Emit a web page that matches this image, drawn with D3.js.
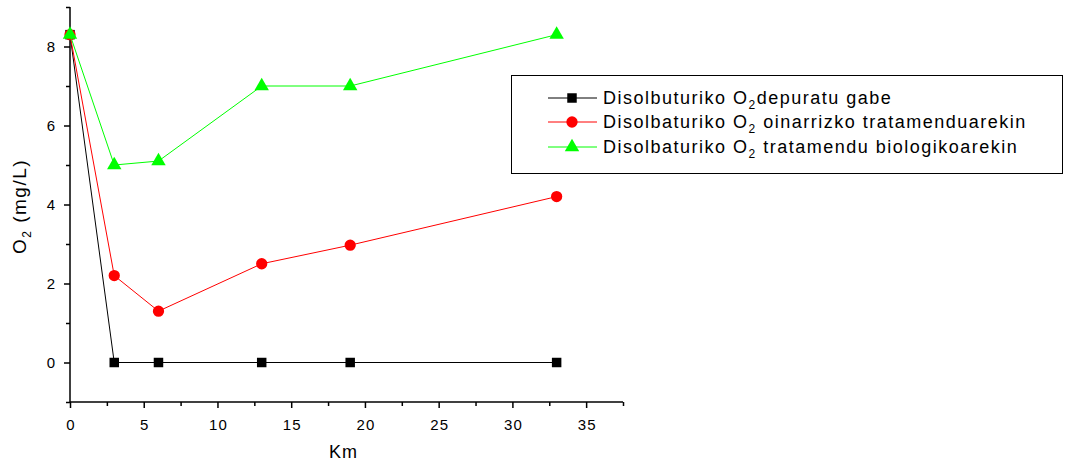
<!DOCTYPE html>
<html>
<head>
<meta charset="utf-8">
<script src="https://cdn.jsdelivr.net/npm/d3@7"></script>
<style>
  body { margin: 0; background: #fff; }
  svg { font-family: "Liberation Sans", Arial, sans-serif; }
</style>
</head>
<body>
<div id="chart"></div>
<script>
// data
var km = [0, 3, 6, 13, 19, 33];
var noTreatment = [8.3, 0, 0, 0, 0, 0];
var basicTreatment = [8.3, 2.2, 1.3, 2.5, 2.97, 4.2];
var bioTreatment = [8.3, 5.0, 5.1, 7.0, 7.0, 8.3];
var seriesNames = ["Disolbuturiko O", "Disolbaturiko O", "Disolbaturiko O"];
var seriesTails = ["depuratu gabe", " oinarrizko tratamenduarekin", " tratamendu biologikoarekin"];
var xTicks = [0, 5, 10, 15, 20, 25, 30, 35];
var yTicks = [0, 2, 4, 6, 8];

var width = 1065, height = 466;
var margin = { left: 70, top: 7, right: 442, bottom: 64 };

var svg = d3.select("#chart").append("svg")
  .attr("width", width)
  .attr("height", height);

var x = d3.scaleLinear().domain([0, 37.5]).range([margin.left, width - margin.right]);
var y = d3.scaleLinear().domain([-1, 9]).range([height - margin.bottom, margin.top]);

// x axis
var xAxis = svg.append("g")
  .attr("transform", "translate(0," + y(-1) + ")");
xAxis.call(d3.axisBottom(x).tickValues(d3.range(0, 37.6, 2.5)).tickSize(5).tickFormat(function (d) {
  return xTicks.indexOf(d) >= 0 ? d : "";
}));
xAxis.selectAll("text").attr("font-size", 15).attr("letter-spacing", 1)
  .attr("fill", "#000").attr("dy", "1em").attr("y", 13).attr("dx", 0.5);
xAxis.selectAll(".tick line").attr("stroke-width", 1.5)
  .attr("y2", function (d) { return xTicks.indexOf(d) >= 0 ? 6 : 4; });
xAxis.select(".domain").attr("d", "M" + x(0) + ",0H" + x(37.5)).attr("stroke-width", 1.5);

// y axis
var yAxis = svg.append("g")
  .attr("transform", "translate(" + x(0) + ",0)");
yAxis.call(d3.axisLeft(y).tickValues(d3.range(-1, 9.1, 1)).tickSize(5).tickFormat(function (d) {
  return yTicks.indexOf(d) >= 0 ? d : "";
}));
yAxis.selectAll("text").attr("font-size", 15).attr("fill", "#000").attr("x", -15);
yAxis.selectAll(".tick line").attr("stroke-width", 1.5)
  .attr("x2", function (d) { return yTicks.indexOf(d) >= 0 ? -6 : -4; });
yAxis.select(".domain").attr("d", "M0," + y(9) + "V" + y(-1)).attr("stroke-width", 1.5);

// axis titles
svg.append("text")
  .attr("x", (x(0) + x(37.5)) / 2 - 3)
  .attr("y", 458)
  .attr("text-anchor", "middle")
  .attr("font-size", 18)
  .attr("letter-spacing", 1)
  .text("Km");

var yTitle = svg.append("text")
  .attr("transform", "translate(26," + (y(4) + 2) + ") rotate(-90)")
  .attr("text-anchor", "middle")
  .attr("font-size", 19)
  .attr("letter-spacing", 1.5);
yTitle.append("tspan").text("O");
yTitle.append("tspan").attr("font-size", 12).attr("dy", 5).text("2");
yTitle.append("tspan").attr("dy", -5).text(" (mg/L)");

var series = [
  { values: noTreatment, color: "#000000", shape: d3.symbolSquare, size: 90 },
  { values: basicTreatment, color: "#ff0000", shape: d3.symbolCircle, size: 100 },
  { values: bioTreatment, color: "#00ff00", shape: d3.symbolTriangle, size: 90 }
];

var line = d3.line()
  .x(function (d) { return x(d[0]); })
  .y(function (d) { return y(d[1]); });

series.forEach(function (s) {
  var pts = km.map(function (k, i) { return [k, s.values[i]]; });
  svg.append("path")
    .attr("d", line(pts))
    .attr("fill", "none")
    .attr("stroke", s.color)
    .attr("stroke-width", 1);
  svg.selectAll(null)
    .data(pts)
    .enter().append("path")
    .attr("transform", function (d) { return "translate(" + x(d[0]) + "," + y(d[1]) + ")"; })
    .attr("d", d3.symbol().type(s.shape).size(s.size))
    .attr("fill", s.color);
});

// legend
var legend = svg.append("g");
legend.append("rect")
  .attr("x", 511.5).attr("y", 75.5)
  .attr("width", 551).attr("height", 98)
  .attr("fill", "#fff")
  .attr("stroke", "#000")
  .attr("stroke-width", 1);

var rowY = [98, 122, 147];
series.forEach(function (s, i) {
  var g = legend.append("g").attr("transform", "translate(0," + rowY[i] + ")");
  g.append("line")
    .attr("x1", 548).attr("x2", 597)
    .attr("stroke", s.color).attr("stroke-width", 1);
  g.append("path")
    .attr("transform", "translate(572,0)")
    .attr("d", d3.symbol().type(s.shape).size(s.size))
    .attr("fill", s.color);
  var t = g.append("text")
    .attr("x", 603).attr("y", 6)
    .attr("font-size", 18)
    .attr("letter-spacing", 1.5);
  t.append("tspan").text(seriesNames[i]);
  t.append("tspan").attr("font-size", 12).attr("dy", 5).text("2");
  t.append("tspan").attr("dy", -5).text(seriesTails[i]);
});
</script>
</body>
</html>
